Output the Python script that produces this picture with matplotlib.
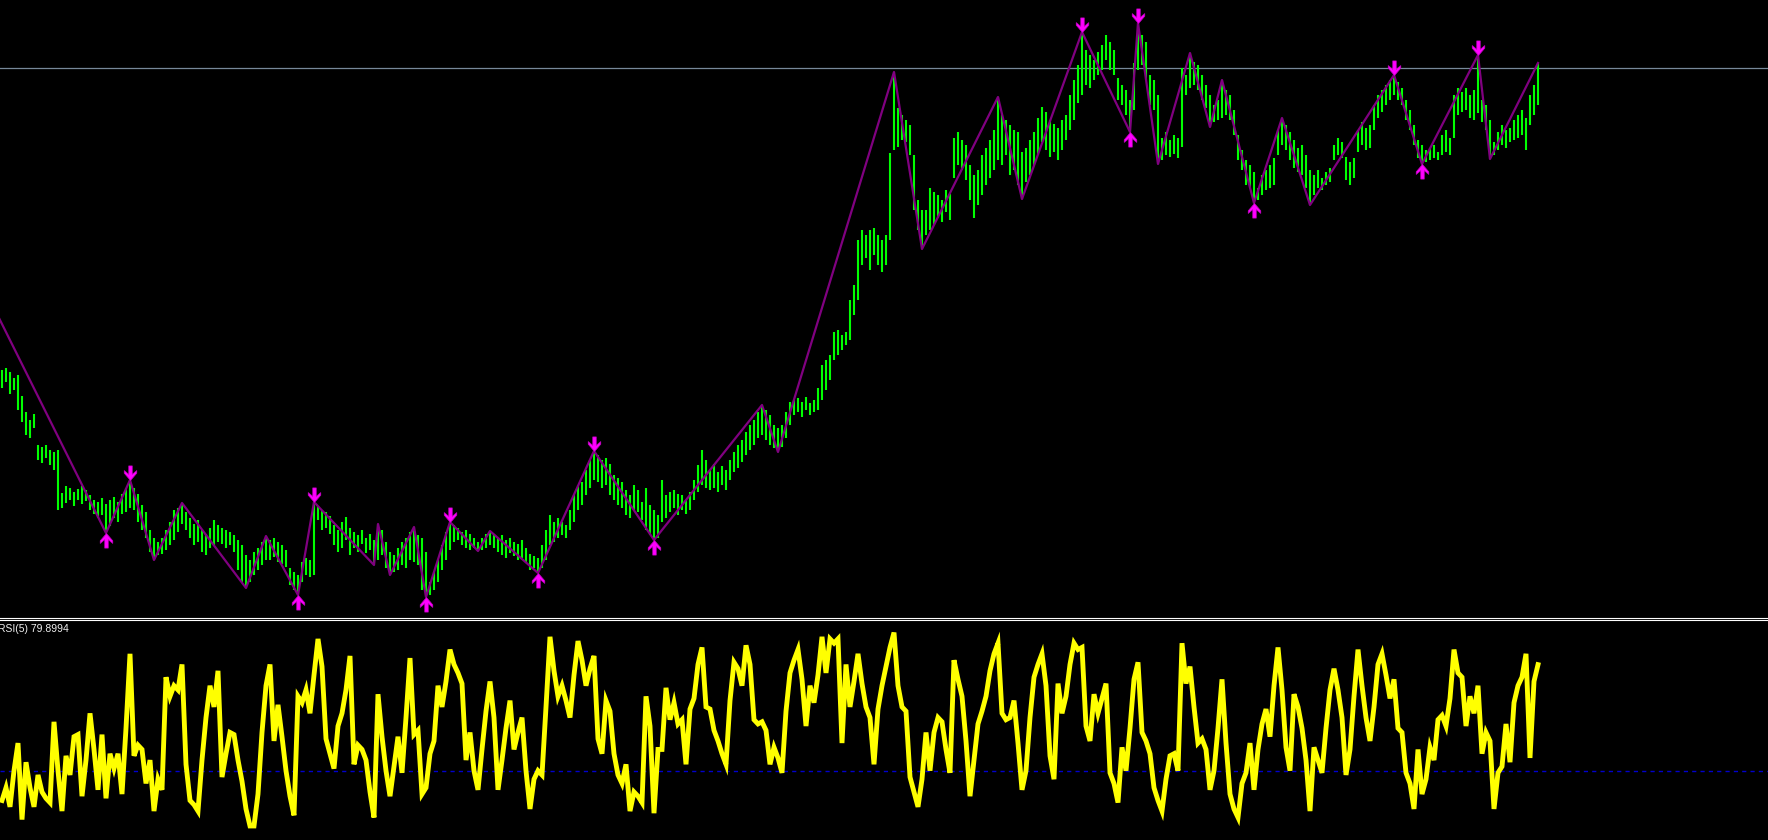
import matplotlib
matplotlib.use("Agg")
import matplotlib.pyplot as plt
from matplotlib.path import Path

# price bars, one high/low pair per bar
bar_high = [
    630, 632, 628, 622, 625, 604, 588, 580, 586, 555,
    553, 555, 550, 548, 550, 507, 514, 512, 508, 511,
    514, 510, 505, 500, 498, 502, 496, 500, 503, 498,
    506, 512, 520, 512, 506, 495, 488, 470, 462, 458,
    462, 470, 478, 490, 492, 497, 488, 482, 476, 480,
    470, 466, 472, 480, 475, 472, 470, 468, 465, 460,
    455, 445, 440, 448, 452, 458, 464, 460, 462, 458,
    455, 450, 432, 428, 425, 438, 442, 440, 498, 494,
    490, 488, 484, 475, 470, 478, 483, 472, 468, 465,
    470, 462, 466, 460, 476, 470, 458, 448, 445, 452,
    458, 462, 468, 473, 465, 462, 448, 418, 428, 440,
    455, 468, 478, 475, 472, 468, 470, 466, 462, 458,
    462, 466, 469, 466, 462, 465, 460, 462, 458, 456,
    460, 452, 446, 444, 442, 455, 470, 485, 478, 482,
    478, 475, 490, 505, 515, 518, 530, 540, 549, 545,
    540, 542, 536, 525, 522, 518, 510, 505, 515, 510,
    498, 512, 495, 490, 485, 520, 505, 508, 510, 506,
    505, 500, 508, 520, 535, 550, 540, 530, 536, 528,
    534, 530, 540, 548, 555, 560, 568, 575, 580, 588,
    595, 590, 585, 575, 572, 575, 588, 598, 600, 602,
    598, 603, 597, 600, 612, 635, 640, 645, 668, 670,
    665, 668, 700, 715, 760, 770, 765, 770, 772, 765,
    760, 765, 847, 928, 892, 885, 880, 875, 845, 800,
    790, 790, 812, 808, 805, 800, 810, 806, 862, 868,
    860, 855, 835, 825, 830, 845, 852, 860, 870, 903,
    885, 880, 875, 870, 868, 848, 852, 860, 868, 882,
    893, 888, 880, 876, 872, 880, 885, 905, 920, 935,
    968, 950, 945, 940, 948, 955, 965, 958, 950, 922,
    915, 910, 900, 937, 977, 965, 958, 925, 920, 905,
    862, 868, 860, 865, 862, 932, 925, 947, 938, 935,
    925, 915, 905, 895, 900, 920, 910, 905, 890, 865,
    850, 840, 835, 828, 812, 825, 830, 835, 842, 870,
    882, 875, 868, 860, 852, 855, 845, 830, 825, 830,
    822, 828, 832, 855, 862, 858, 843, 838, 842, 870,
    878, 872, 875, 895, 905, 910, 915, 920, 925, 918,
    912, 900, 890, 875, 860, 855, 850, 852, 855, 848,
    865, 870, 862, 905, 912, 908, 912, 905, 910, 945,
    900, 895, 880, 858, 868, 875, 870, 872, 880, 885,
    890, 882, 905, 915, 937,
]
bar_low = [
    612, 618, 606, 610, 590, 578, 565, 562, 572, 540,
    537, 542, 535, 530, 490, 492, 497, 500, 494, 500,
    496, 499, 490, 486, 482, 485, 467, 474, 482, 478,
    486, 488, 492, 490, 478, 470, 462, 448, 440, 445,
    446, 450, 455, 460, 468, 476, 470, 462, 455, 458,
    448, 445, 452, 455, 458, 456, 452, 455, 448, 430,
    418, 412, 418, 425, 430, 435, 440, 440, 443, 438,
    436, 433, 415, 410, 405, 418, 425, 423, 425, 480,
    470, 472, 466, 455, 448, 452, 460, 445, 452, 448,
    456, 447, 450, 435, 440, 445, 432, 425, 428, 430,
    435, 432, 440, 438, 435, 410, 403, 405, 410, 418,
    430, 440, 450, 458, 460, 455, 452, 450, 452, 449,
    450, 452, 455, 452, 448, 445, 442, 447, 444, 440,
    442, 437, 430, 432, 427, 432, 440, 455, 458, 462,
    465, 462, 470, 478, 490, 495, 505, 512, 520, 518,
    512, 515, 505, 500, 495, 492, 485, 482, 490, 488,
    480, 470, 465, 460, 462, 478, 482, 488, 492, 485,
    490, 486, 490, 500, 508, 515, 512, 510, 512, 508,
    515, 510, 520, 528, 532, 538, 545, 550, 555, 562,
    565, 560, 555, 552, 548, 553, 562, 575, 585, 588,
    583, 590, 585, 588, 590, 600, 610, 620, 640, 645,
    650, 655, 660, 685, 700, 735, 742, 730, 745, 735,
    728, 735, 760, 850, 853, 860, 858, 845, 790, 770,
    751, 765, 770, 775, 782, 778, 788, 780, 822, 835,
    830, 820, 800, 782, 795, 805, 815, 822, 830, 840,
    835, 845, 825, 830, 815, 801, 818, 825, 835, 845,
    858, 850, 843, 848, 840, 850, 860, 870, 880, 897,
    905, 915, 912, 920, 925, 930, 940, 930, 925, 900,
    895, 885, 868, 890, 930, 935, 920, 895, 890, 836,
    840, 845, 843, 846, 842, 853, 905, 912, 915, 910,
    900, 892, 873, 878, 880, 882, 885, 880, 865, 840,
    830, 815, 812, 797, 800, 805, 810, 812, 815, 845,
    855, 850, 840, 832, 828, 825, 812, 795, 805, 812,
    810, 815, 818, 840, 845, 842, 820, 815, 822, 848,
    855, 850, 852, 870, 882, 888, 895, 900, 905, 900,
    895, 880, 870, 855, 842, 836, 838, 840, 842, 840,
    845, 848, 845, 862, 885, 888, 890, 882, 880, 887,
    878, 870, 841, 845, 850, 855, 852, 858, 860, 862,
    865, 850, 875, 885, 895,
]

# zigzag turning points (bar index, price)
zz_idx = [-1, 26, 32, 38, 45, 61, 66, 74, 78, 93, 94, 97, 103, 106, 112,
          119, 122, 134, 148, 163, 190, 194, 223, 230, 249, 255, 270, 282,
          284, 289, 297, 302, 305, 313, 320, 327, 348, 355, 369, 372, 384]
zz_price = [684, 467, 520, 440, 497, 412, 464, 405, 498, 435, 476, 425, 473,
            403, 478, 449, 469, 427, 549, 460, 595, 548, 928, 751, 903, 801,
            968, 868, 977, 836, 947, 873, 920, 797, 882, 795, 925, 836, 945,
            841, 937]

# fractal arrows
up_arrow_idx = [26, 74, 106, 134, 163, 282, 313, 355]
down_arrow_idx = [32, 78, 112, 148, 270, 284, 348, 369]

level_price = 932

# RSI(5), one value per bar
rsi = [
    16, 22, 13, 30, 43, 7, 34, 22, 13, 28,
    20, 17, 15, 53, 30, 11, 37, 28, 46, 47,
    18, 35, 57, 40, 21, 47, 17, 38, 31, 38,
    19, 50, 85, 37, 42, 40, 24, 35, 11, 26,
    21, 74, 65, 70, 68, 80, 33, 16, 14, 11,
    35, 55, 70, 60, 77, 27, 38, 48, 47, 35,
    25, 12, 4, 4, 19, 48, 70, 80, 44, 61,
    46, 30, 18, 9, 65, 62, 68, 57, 75, 92,
    79, 45, 38, 31, 51, 57, 68, 84, 33, 42,
    40, 35, 20, 8, 66, 46, 30, 18, 32, 46,
    29, 55, 83, 47, 49, 19, 22, 38, 44, 70,
    60, 72, 87, 80, 76, 71, 35, 48, 30, 21,
    40, 58, 72, 55, 21, 35, 50, 63, 40, 48,
    55, 30, 12, 26, 30, 28, 60, 93, 77, 65,
    70, 63, 55, 75, 91, 82, 70, 78, 84, 45,
    38, 63, 58, 38, 28, 24, 33, 11, 20, 18,
    15, 65, 51, 10, 40, 40, 69, 54, 62, 52,
    54, 33, 59, 64, 80, 88, 60, 59, 49, 44,
    38, 33, 63, 81, 78, 70, 89, 80, 54, 52,
    53, 49, 33, 41, 36, 29, 58, 76, 82, 87,
    73, 51, 70, 62, 75, 93, 76, 92, 90, 92,
    43, 80, 60, 72, 85, 71, 60, 55, 33, 59,
    70, 79, 88, 95, 70, 60, 58, 27, 20, 13,
    26, 48, 30, 48, 55, 53, 40, 29, 82, 73,
    65, 44, 18, 35, 52, 58, 65, 77, 85, 90,
    57, 54, 55, 63, 43, 21, 30, 55, 74, 80,
    85, 70, 37, 26, 71, 57, 65, 80, 90, 87,
    88, 51, 44, 66, 57, 64, 71, 29, 24, 15,
    41, 30, 50, 73, 81, 48, 44, 38, 22, 16,
    11, 26, 37, 38, 30, 90, 71, 79, 60, 43,
    45, 40, 21, 30, 50, 73, 43, 19, 12, 8,
    24, 29, 43, 21, 40, 52, 59, 46, 70, 88,
    68, 41, 30, 66, 60, 50, 35, 11, 41, 35,
    29, 50, 68, 78, 68, 55, 28, 40, 65, 87,
    70, 55, 44, 60, 80, 85, 75, 64, 73, 50,
    48, 29, 24, 12, 40, 19, 26, 41, 35, 54,
    56, 51, 64, 87, 76, 74, 51, 65, 57, 70,
    38, 48, 44, 12, 29, 32, 52, 34, 62, 70,
    74, 85, 36, 72, 79.8994,
]
rsi_level = 30

assert len(bar_high) == len(bar_low) == len(rsi)
n_bars = len(bar_high)

W, H = 1768, 840
fig = plt.figure(figsize=(W / 100, H / 100), dpi=100, facecolor="black")

# main window ends at y=617px, indicator window starts at y=620px
ax = fig.add_axes([0, 1 - 617.5 / H, 1, 617.5 / H])
ax_rsi = fig.add_axes([0, 0, 1, 220 / H])

x_lim = (-0.5, 441.5)  # leaves the empty space on the right like MT4
for a in (ax, ax_rsi):
    a.set_facecolor("black")
    a.set_xlim(*x_lim)
    a.set_xticks([])
    a.set_yticks([])
    for s in a.spines.values():
        s.set_visible(False)

ax.spines["bottom"].set_visible(True)
ax.spines["bottom"].set_color("white")
ax.spines["bottom"].set_linewidth(0.8)
ax_rsi.spines["top"].set_visible(True)
ax_rsi.spines["top"].set_color("white")
ax_rsi.spines["top"].set_linewidth(0.8)

# price window
idx = list(range(n_bars))
ax.set_ylim(382.5, 1000)
ax.axhline(level_price, color="#778899", lw=0.9, zorder=1)
ax.vlines(idx, bar_low, bar_high, color="#00ff00", lw=1.5, zorder=2)
ax.plot(zz_idx, zz_price, color="#800080", lw=1.6, zorder=3)

up_verts = [(0, 0), (0.43, -0.5), (0.43, -0.68), (0.12, -0.42), (0.12, -1.0),
            (-0.12, -1.0), (-0.12, -0.42), (-0.43, -0.68), (-0.43, -0.5), (0, 0)]
up_arrow = Path(up_verts, closed=True)
down_arrow = Path([(vx, -vy) for vx, vy in up_verts], closed=True)

ax.plot(up_arrow_idx, [bar_low[i] for i in up_arrow_idx], ls="none",
        marker=up_arrow, markersize=21, color="#ff00ff", mec="#c000c0",
        mew=0.5, zorder=4)
ax.plot(down_arrow_idx, [bar_high[i] for i in down_arrow_idx], ls="none",
        marker=down_arrow, markersize=21, color="#ff00ff", mec="#c000c0",
        mew=0.5, zorder=4)

# RSI window
ax_rsi.set_ylim(-2.6, 100.9)
ax_rsi.axhline(rsi_level, color="#0000cd", lw=1.0, ls=(0, (3, 3)), zorder=1)
ax_rsi.plot(idx, rsi, color="#ffff00", lw=3.5, solid_joinstyle="miter", zorder=2)
ax_rsi.text(-0.001, 0.96, "RSI(5) {:.4f}".format(rsi[-1]), transform=ax_rsi.transAxes,
            ha="left", va="center", color="#f0f0f0", fontsize=7.5,
            family="Liberation Sans")

fig.savefig("out.png", dpi=100, facecolor="black")
